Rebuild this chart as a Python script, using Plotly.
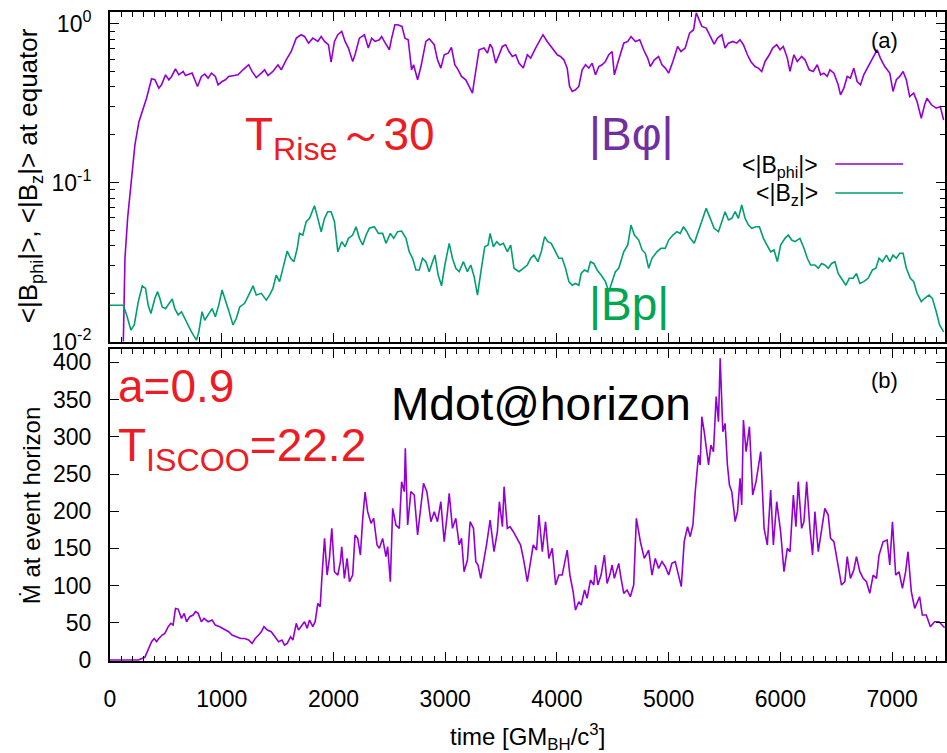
import plotly.graph_objects as go

# ---------------- data ----------------
t_phi = [110, 119, 134, 158, 193, 223, 259, 327, 372, 402, 437, 461, 497, 527, 551, 586, 616, 655, 676, 705,
         735, 759, 783, 818, 848, 878, 908, 943, 967, 1003, 1033, 1062, 1101, 1146, 1190, 1241, 1271, 1309, 1354, 1384,
         1414, 1458, 1503, 1533, 1577, 1622, 1667, 1711, 1741, 1777, 1815, 1860, 1890, 1920, 1955, 1979, 2009, 2039, 2074, 2104,
         2134, 2172, 2193, 2232, 2277, 2312, 2342, 2372, 2411, 2431, 2455, 2500, 2521, 2550, 2574, 2613, 2640, 2669, 2699, 2717,
         2753, 2783, 2827, 2857, 2902, 2931, 2961, 2991, 3027, 3056, 3086, 3116, 3146, 3184, 3214, 3244, 3259, 3303, 3348, 3378,
         3402, 3422, 3452, 3482, 3512, 3541, 3571, 3601, 3631, 3660, 3699,
         3735, 3765, 3809, 3839, 3875, 3913, 3958, 4003, 4032, 4062, 4092, 4113, 4137, 4166, 4196, 4226, 4256, 4285, 4315, 4345,
         4375, 4404, 4434, 4464, 4494, 4514, 4553, 4598, 4634, 4663, 4702, 4741, 4776, 4812, 4836, 4872, 4910, 4940, 4970, 5000,
         5038, 5080, 5110, 5148, 5187, 5223, 5247, 5267, 5297, 5336, 5372, 5407, 5437, 5476, 5505, 5535, 5574, 5610, 5639, 5669,
         5705, 5735, 5773, 5803, 5833, 5863, 5901, 5931, 5967, 5997, 6026, 6062, 6086, 6121, 6151, 6190, 6220, 6258, 6294, 6330,
         6360, 6389, 6419, 6443, 6479, 6517, 6538, 6568, 6598, 6627, 6657, 6687, 6717, 6746, 6785, 6824, 6866, 6895, 6934, 6979,
         7008, 7038, 7068, 7098, 7127, 7157, 7193, 7223, 7261, 7291, 7312, 7351, 7395, 7431, 7461]
b_phi = [0.008, 0.0098, 0.0334, 0.060, 0.106, 0.173, 0.242, 0.340, 0.450, 0.444, 0.393, 0.413, 0.477, 0.444, 0.466, 0.520, 0.477, 0.501, 0.472, 0.482,
         0.489, 0.444, 0.403, 0.466, 0.482, 0.455, 0.489, 0.466, 0.413, 0.433, 0.444, 0.466, 0.472, 0.477, 0.513, 0.552, 0.501, 0.459, 0.489, 0.513,
         0.472, 0.501, 0.552, 0.513, 0.593, 0.669, 0.812, 0.853, 0.832, 0.755, 0.812, 0.774, 0.832, 0.774, 0.738, 0.573, 0.774, 0.853, 0.895, 0.774,
         0.703, 0.579, 0.638, 0.812, 0.853, 0.703, 0.812, 0.774, 0.793, 0.832, 0.774, 0.686, 0.812, 0.985, 0.985, 0.962, 0.812, 0.793, 0.513, 0.552,
         0.444, 0.538, 0.774, 0.804, 0.738, 0.593, 0.526, 0.638, 0.653, 0.710, 0.552, 0.513, 0.466, 0.444, 0.403, 0.366, 0.433, 0.686, 0.703, 0.653,
         0.745, 0.703, 0.565, 0.638, 0.720, 0.738, 0.669, 0.622, 0.638, 0.565, 0.526,
         0.638, 0.608, 0.703, 0.774, 0.853, 0.774, 0.703, 0.638, 0.622, 0.593, 0.526, 0.403, 0.375, 0.384, 0.403, 0.513, 0.552, 0.526, 0.565, 0.477,
         0.538, 0.552, 0.579, 0.638, 0.669, 0.477, 0.593, 0.755, 0.774, 0.832, 0.774, 0.793, 0.686, 0.608, 0.538, 0.593, 0.622, 0.552, 0.526, 0.489,
         0.579, 0.720, 0.669, 0.703, 0.873, 0.917, 1.17, 1.086, 0.962, 0.939, 0.832, 0.745, 0.812, 0.853, 0.703, 0.755, 0.774, 0.755, 0.793, 0.738,
         0.638, 0.579, 0.538, 0.526, 0.501, 0.579, 0.638, 0.703, 0.738, 0.686, 0.720, 0.608, 0.501, 0.638, 0.579, 0.622, 0.593, 0.513, 0.501, 0.552,
         0.477, 0.489, 0.466, 0.513, 0.489, 0.413, 0.357, 0.393, 0.466, 0.455, 0.526, 0.433, 0.413, 0.477, 0.538, 0.608, 0.686, 0.608, 0.538, 0.489,
         0.375, 0.444, 0.466, 0.501, 0.444, 0.348, 0.366, 0.324, 0.254, 0.309, 0.340, 0.309, 0.294, 0.301, 0.248]

t_z = [0, 119, 149, 187, 217, 253, 289, 318, 342, 366, 402, 426, 446, 467, 497, 527, 557, 580, 610, 640,
       685, 729, 774, 795, 824, 848, 878, 914, 943, 973, 1003, 1033, 1062, 1101, 1131, 1161, 1205, 1241, 1280, 1309,
       1354, 1399, 1428, 1458, 1488, 1518, 1562, 1586, 1616, 1646, 1676, 1696, 1726, 1756, 1786, 1830, 1860, 1890, 1920, 1949,
       1979, 2009, 2039, 2074, 2104, 2134, 2172, 2202, 2232, 2262, 2292, 2321, 2366, 2402, 2440, 2470, 2509, 2539, 2574, 2610,
       2649, 2678, 2708, 2738, 2768, 2797, 2827, 2857, 2887, 2908, 2937, 2967, 2997, 3036, 3065, 3095, 3125, 3163, 3199, 3229,
       3259, 3289, 3324, 3354, 3384, 3402, 3431, 3461, 3491, 3521, 3556, 3586, 3616, 3660, 3699,
       3735, 3765, 3794, 3830, 3860, 3890, 3919, 3949, 3979, 4017, 4047, 4077, 4107, 4137, 4166, 4196, 4217, 4247, 4276, 4300,
       4330, 4360, 4395, 4434, 4464, 4494, 4523, 4553, 4598, 4634, 4663, 4693, 4732, 4762, 4791, 4821, 4851, 4895, 4931, 4970,
       5000, 5038, 5074, 5104, 5133, 5163, 5193, 5229, 5258, 5288, 5336, 5372, 5407, 5446, 5467, 5505, 5535, 5565, 5595, 5624,
       5654, 5684, 5714, 5744, 5782, 5812, 5848, 5883, 5913, 5943, 5973, 6002, 6041, 6071, 6101, 6130, 6175, 6211, 6241, 6270,
       6309, 6339, 6369, 6398, 6428, 6458, 6488, 6517, 6547, 6586, 6616, 6651, 6681, 6711, 6746, 6785, 6824, 6854, 6883, 6913,
       6949, 6979, 7008, 7038, 7068, 7098, 7127, 7163, 7193, 7223, 7261, 7291, 7330, 7360, 7395, 7425, 7461]
b_z = [0.0169, 0.0169, 0.0147, 0.0118, 0.0127, 0.0178, 0.0224, 0.0216, 0.0169, 0.0150, 0.0187, 0.0206, 0.0187, 0.0165, 0.0161, 0.0174, 0.0185, 0.0161, 0.0147, 0.0154,
       0.0133, 0.0115, 0.0102, 0.0115, 0.0154, 0.0136, 0.0147, 0.0161, 0.0143, 0.0169, 0.0211, 0.0178, 0.0157, 0.0127, 0.0140, 0.0165, 0.0174, 0.0196, 0.0224, 0.0196,
       0.0201, 0.0182, 0.0196, 0.0216, 0.0262, 0.0238, 0.0318, 0.0371, 0.0334, 0.0318, 0.0386, 0.0479, 0.0468, 0.0568, 0.0596, 0.0716, 0.0596, 0.0491, 0.0596, 0.0656,
       0.0656, 0.0568, 0.0367, 0.0425, 0.0395, 0.0446, 0.0468, 0.0528, 0.0446, 0.0405, 0.0468, 0.0516, 0.0528, 0.0479, 0.0479, 0.0415, 0.0479, 0.0446, 0.0491, 0.0496,
       0.0446, 0.0367, 0.0334, 0.0282, 0.0282, 0.0334, 0.0318, 0.0275, 0.0318, 0.0350, 0.0262, 0.0224, 0.0303, 0.0415, 0.0334, 0.0289, 0.0275, 0.0318, 0.0275, 0.0303,
       0.0256, 0.0196, 0.0289, 0.0395, 0.0405, 0.0479, 0.0395, 0.0425, 0.0405, 0.0415, 0.0367, 0.0405, 0.0289, 0.0275, 0.0289,
       0.0303, 0.0334, 0.0350, 0.0318, 0.0367, 0.0457, 0.0425, 0.0415, 0.0377, 0.0334, 0.0334, 0.0289, 0.0238, 0.0226, 0.0232, 0.0226, 0.0268, 0.0282, 0.0275, 0.0318,
       0.0310, 0.0282, 0.0262, 0.0238, 0.0206, 0.0238, 0.0275, 0.0289, 0.0367, 0.0405, 0.0541, 0.0468, 0.0435, 0.0377, 0.0359, 0.0289, 0.0334, 0.0367, 0.0386, 0.0386,
       0.0435, 0.0468, 0.0491, 0.0479, 0.0528, 0.0491, 0.0446, 0.0415, 0.0479, 0.0541, 0.0689, 0.0596, 0.0516, 0.0491, 0.0541, 0.0656, 0.0582, 0.0596, 0.0656, 0.0596,
       0.0723, 0.0596, 0.0541, 0.0516, 0.0528, 0.0528, 0.0446, 0.0405, 0.0367, 0.0377, 0.0318, 0.0405, 0.0446, 0.0468, 0.0435, 0.0425, 0.0446, 0.0386, 0.0334, 0.0303,
       0.0303, 0.0289, 0.0310, 0.0303, 0.0289, 0.0310, 0.0318, 0.0268, 0.0250, 0.0226, 0.0250, 0.0250, 0.0268, 0.0232, 0.0238, 0.0250, 0.0282, 0.0289, 0.0334, 0.0318,
       0.0350, 0.0318, 0.0350, 0.0334, 0.0359, 0.0359, 0.0289, 0.0250, 0.0238, 0.0201, 0.0178, 0.0187, 0.0196, 0.0187, 0.0154, 0.0127, 0.0115]

t_mdot = [0, 253, 312, 342, 372, 396, 417, 437, 467, 491, 521, 545, 565, 586, 610, 640, 664, 685, 714, 744,
          765, 789, 818, 842, 878, 914, 943, 982, 1027, 1062, 1092, 1131, 1170, 1205, 1241, 1271, 1300, 1330, 1354, 1378,
          1408, 1443, 1473, 1509, 1539, 1562, 1586, 1616, 1637, 1667, 1687, 1717, 1741, 1765, 1786, 1815, 1836, 1860, 1881, 1896,
          1920, 1943, 1964, 1985, 2009, 2039, 2062, 2074, 2098, 2122, 2143, 2172, 2193, 2217, 2241, 2262, 2283, 2306, 2336, 2360,
          2390, 2411, 2440, 2470, 2485, 2509, 2530, 2559, 2589, 2610, 2634, 2643, 2664, 2693, 2723, 2753, 2783, 2806, 2836, 2872,
          2902, 2931, 2961, 2991, 3021, 3036, 3065, 3095, 3125, 3146, 3169, 3199, 3223, 3253, 3274, 3294, 3318, 3342, 3372, 3402,
          3437, 3467, 3485, 3512, 3527, 3556, 3580, 3610, 3640, 3675, 3705,
          3735, 3759, 3788, 3818, 3839, 3869, 3898, 3928, 3958, 3988, 4017, 4047, 4068, 4092, 4116, 4145, 4166, 4196, 4217, 4247,
          4270, 4300, 4330, 4345, 4366, 4395, 4425, 4449, 4473, 4494, 4514, 4553, 4574, 4598, 4628, 4657, 4687, 4711, 4747, 4782,
          4821, 4851, 4880, 4910, 4940, 4970, 5000, 5029, 5059, 5089, 5113, 5139, 5169, 5193, 5217, 5238, 5253, 5267, 5282, 5297,
          5318, 5336, 5357, 5378, 5401, 5425, 5446, 5461, 5485, 5505, 5526, 5544, 5565, 5595, 5616, 5639, 5654, 5669, 5693, 5723,
          5752, 5782, 5824, 5854, 5883, 5913, 5937, 5967, 6002, 6032, 6062, 6086, 6116, 6139, 6160, 6190, 6211, 6235, 6264, 6288,
          6309, 6339, 6369, 6398, 6428, 6449, 6479, 6517, 6547, 6577, 6598, 6627, 6657, 6681, 6711, 6741, 6770, 6800, 6830, 6860,
          6883, 6919, 6955, 6979, 7003, 7032, 7062, 7092, 7121, 7142, 7172, 7202, 7246, 7270, 7306, 7342, 7380, 7419, 7449, 7470]
mdot = [0, 0, 3.6, 13.4, 24.6, 29, 24.6, 29, 33.6, 35.8, 44.8, 49.3, 47, 69.4, 68.5, 56, 62.7, 51.5, 58.2, 60.5,
        65, 62.7, 51.5, 56, 51.5, 53.8, 47, 44.8, 40.3, 38, 33.6, 31.3, 29, 29, 26.9, 22.4, 29, 33.6, 38, 44.8,
        40.3, 38, 31.3, 24.6, 26.9, 20.2, 22.4, 31.3, 26.9, 49.3, 40.3, 47, 51.5, 42.6, 53.8, 44.8, 51.5, 76.2, 71.7, 109.8,
        163.5, 114.2, 136.6, 177, 118.7, 114.2, 132.2, 152.3, 109.8, 136.6, 105.3, 114.2, 168, 163.5, 141.1, 190.4, 225.8, 199.4, 183.7, 190.4,
        154.6, 150.1, 163.5, 138.9, 152.3, 105.3, 203.9, 181.5, 177, 239.7, 226.3, 284.5, 181.5, 226.3, 221.8, 168, 203.9, 237.5, 226.3, 185.9,
        199.4, 185.9, 212.8, 159, 199.4, 224, 177, 190.4, 154.6, 163.5, 118.7, 134.4, 185.9, 177, 132.2, 127.7, 109.8, 129.9, 156.8, 188.2,
        145.6, 172.5, 212.8, 179.2, 233, 177, 179.2, 172.5, 163.5, 154.6, 132.2,
        105.3, 127.7, 154.6, 147.8, 194.9, 145.6, 185.9, 136.6, 150.1, 100.8, 114.2, 114.2, 132.2, 147.8, 114.2, 91.8, 67.2, 78.4, 73.9, 94.1,
        82.9, 107.5, 100.8, 127.7, 100.8, 114.2, 141.1, 103, 114.2, 127.7, 109.8, 129.9, 109.8, 89.6, 94.1, 85.1, 100.8, 190.4, 159, 136.6,
        147.8, 114.2, 136.6, 123.2, 132.2, 125.4, 114.2, 129.9, 132.2, 114.2, 98.6, 159, 179.2, 165.8, 181.5, 226.3, 257.6, 275.5, 262.1, 327,
        306.9, 284.5, 262.1, 289, 280, 354, 320.3, 405.5, 306.9, 318.1, 262.1, 235.2, 226.3, 186, 199.4, 244.2, 208.3, 322.6, 280, 313.6,
        221.8, 239.7, 280, 177, 154.6, 228.5, 154.6, 212.8, 172.5, 118.7, 150.1, 145.6, 221.8, 179.2, 239.7, 177, 185.9, 239.7, 177, 141.1,
        199.4, 145.6, 177, 203.9, 194.9, 163.5, 159, 127.7, 100.8, 105.3, 138.9, 109.8, 121, 138.9, 118.7, 109.8, 105.3, 89.6, 114.2, 109.8,
        141.1, 159, 161.3, 127.7, 185.9, 114.2, 118.7, 96.3, 118.7, 145.6, 91.8, 69.4, 85.1, 60.5, 60.5, 44.8, 51.5, 51.5, 47, 43.5]

x_ticks = [0, 1000, 2000, 3000, 4000, 5000, 6000, 7000]
log_tickvals = [0.01, 0.1, 1]
log_ticktext = ["10<sup>-2</sup>", "10<sup>-1</sup>", "10<sup>0</sup>"]
mdot_ticks = [0, 50, 100, 150, 200, 250, 300, 350, 400]

# ---------------- style ----------------
FONT = "Liberation Sans, Arial, Helvetica, sans-serif"
PURPLE = "#9400D3"
GREEN = "#009E73"
RED = "#ED1C24"
W, H = 947, 753
L, R, T, B = 110, 0, 12, 92
PW, PH = W - L - R, H - T - B


def px(x):
    return (x - L) / PW


def py(y):
    return (H - B - y) / PH


fig = go.Figure()
fig.add_trace(go.Scatter(x=t_phi, y=b_phi, mode="lines", line=dict(color=PURPLE, width=1.6),
                         xaxis="x2", yaxis="y2", name="<|B<sub>phi</sub>|>"))
fig.add_trace(go.Scatter(x=t_z, y=b_z, mode="lines", line=dict(color=GREEN, width=1.6),
                         xaxis="x2", yaxis="y2", name="<|B<sub>z</sub>|>"))
fig.add_trace(go.Scatter(x=t_mdot, y=mdot, mode="lines", line=dict(color=PURPLE, width=1.6),
                         xaxis="x", yaxis="y", name="Mdot"))

common_x = dict(range=[0, (W - L - R) / 0.112], tickvals=x_ticks, ticks="inside", ticklen=9,
                tickwidth=1.2, tickcolor="black", showline=True, linecolor="black", linewidth=2,
                mirror="ticks", showgrid=False, zeroline=False,
                minor=dict(dtick=100, ticks="inside", ticklen=5, tickwidth=1, tickcolor="black", showgrid=False))

top_dom = [py(341.5), 1.0]
bot_dom = [0.0, py(348.5)]

fig.update_layout(
    width=W, height=H, margin=dict(l=L, r=R, t=T, b=B),
    paper_bgcolor="white", plot_bgcolor="white", showlegend=False,
    font=dict(family=FONT, size=23, color="black"),
    xaxis=dict(**common_x, anchor="y", domain=[0, 1], showticklabels=True,
               ticklabelstandoff=16, tickfont=dict(size=23)),
    xaxis2=dict(**common_x, anchor="y2", domain=[0, 1], matches="x", showticklabels=False),
    yaxis=dict(domain=bot_dom, anchor="x", range=[-1.3, 418.7], tickvals=mdot_ticks, ticks="inside",
               ticklen=9, tickwidth=1.2, tickcolor="black", showline=True, linecolor="black", linewidth=2,
               mirror="ticks", showgrid=False, zeroline=False, ticklabelstandoff=12, tickfont=dict(size=23)),
    yaxis2=dict(domain=top_dom, anchor="x2", type="log", range=[-2, 0.074], tickvals=log_tickvals,
                ticktext=log_ticktext, ticks="inside", ticklen=9, tickwidth=1.2, tickcolor="black",
                showline=True, linecolor="black", linewidth=2, mirror="ticks", showgrid=False,
                zeroline=False, ticklabelstandoff=12, tickfont=dict(size=23),
                minor=dict(tickvals=[0.02, 0.03, 0.04, 0.05, 0.06, 0.07, 0.08, 0.09,
                                     0.2, 0.3, 0.4, 0.5, 0.6, 0.7, 0.8, 0.9],
                           ticks="inside", ticklen=5, tickwidth=1, tickcolor="black", showgrid=False)),
)

ann = []
# axis titles
ann.append(dict(text="<|B<sub>phi</sub>|>, <|B<sub>z</sub>|> at equator", x=px(30), y=py(176),
                textangle=-90, font=dict(size=26)))
ann.append(dict(text="Ṁ at event horizon", x=px(31), y=py(506), textangle=-90, font=dict(size=24)))
ann.append(dict(text="time [GM<sub>BH</sub>/c<sup>3</sup>]", x=px(529), y=py(737), font=dict(size=24)))
# panel labels
ann.append(dict(text="(a)", x=px(886), y=py(40), font=dict(size=22)))
ann.append(dict(text="(b)", x=px(886), y=py(380), font=dict(size=22)))
# legend texts
ann.append(dict(text="<|B<sub>phi</sub>|>", x=px(822), y=py(166), xanchor="right", font=dict(size=23)))
ann.append(dict(text="<|B<sub>z</sub>|>", x=px(822), y=py(195), xanchor="right", font=dict(size=23)))
# big labels
ann.append(dict(text="T<sub>Rise</sub>～30", x=px(243), y=py(137), xanchor="left", font=dict(size=46, color=RED)))
ann.append(dict(text="|Bφ|", x=px(588), y=py(134), xanchor="left", font=dict(size=46, color="#7030A0")))
ann.append(dict(text="|Bp|", x=px(588), y=py(304), xanchor="left", font=dict(size=46, color="#00A651")))
ann.append(dict(text="a=0.9", x=px(116), y=py(386), xanchor="left", font=dict(size=46, color=RED)))
ann.append(dict(text="T<sub>ISCOO</sub>=22.2", x=px(116), y=py(448), xanchor="left", font=dict(size=46, color=RED)))
ann.append(dict(text="Mdot@horizon", x=px(390), y=py(404), xanchor="left", font=dict(size=46, color="black")))

for a in ann:
    a.setdefault("xanchor", "center")
    a.update(xref="paper", yref="paper", showarrow=False, yanchor="middle")
fig.update_layout(annotations=ann)

# legend sample lines
fig.add_shape(type="line", xref="paper", yref="paper", x0=px(837), x1=px(905), y0=py(164), y1=py(164),
              line=dict(color=PURPLE, width=1.6))
fig.add_shape(type="line", xref="paper", yref="paper", x0=px(837), x1=px(905), y0=py(193), y1=py(193),
              line=dict(color=GREEN, width=1.6))

fig.write_html("out.html")
